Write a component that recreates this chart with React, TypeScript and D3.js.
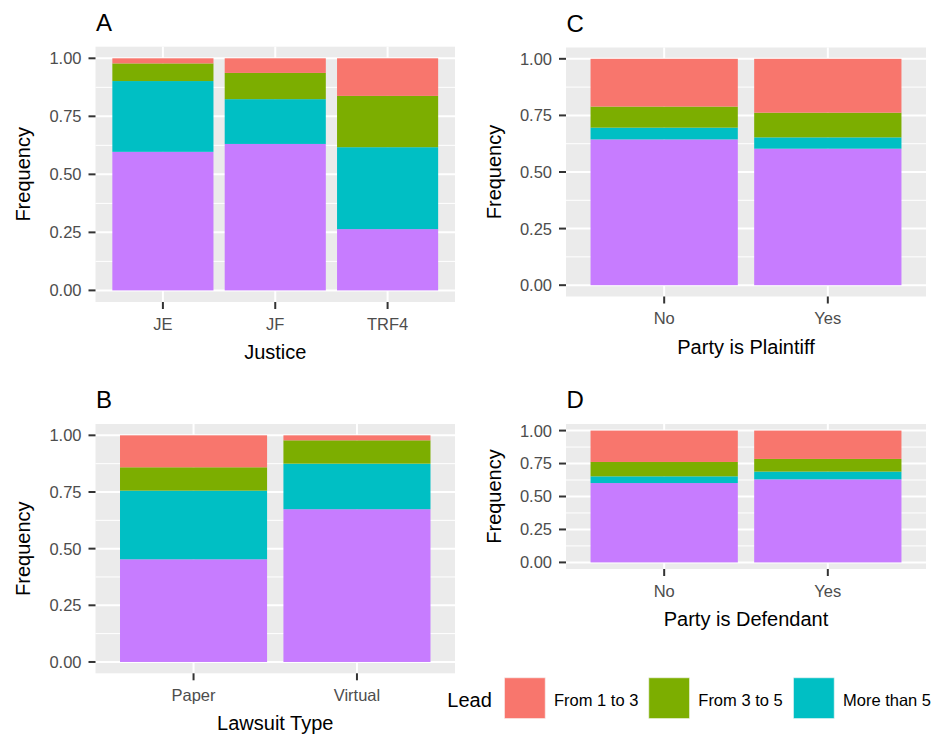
import React from "react";
import * as d3 from "d3";

// ---------- data ----------
const seriesKeys = ["Less than 1", "More than 5", "From 3 to 5", "From 1 to 3"]; // bottom -> top
const legendKeys = ["From 1 to 3", "From 3 to 5", "More than 5"];
const yTicks = [0, 0.25, 0.5, 0.75, 1];
const yMinor = [0.125, 0.375, 0.625, 0.875];

const justiceCats = ["JE", "JF", "TRF4"];
const justiceLess1 = [0.597, 0.631, 0.264];
const justiceMore5 = [0.305, 0.193, 0.353];
const justice3to5 = [0.076, 0.113, 0.221];
const justice1to3 = [0.022, 0.063, 0.162];

const lawsuitCats = ["Paper", "Virtual"];
const lawsuitLess1 = [0.453, 0.674];
const lawsuitMore5 = [0.303, 0.201];
const lawsuit3to5 = [0.103, 0.103];
const lawsuit1to3 = [0.141, 0.022];

const plaintiffCats = ["No", "Yes"];
const plaintiffLess1 = [0.644, 0.603];
const plaintiffMore5 = [0.052, 0.05];
const plaintiff3to5 = [0.093, 0.109];
const plaintiff1to3 = [0.211, 0.238];

const defendantCats = ["No", "Yes"];
const defendantLess1 = [0.602, 0.63];
const defendantMore5 = [0.051, 0.059];
const defendant3to5 = [0.109, 0.096];
const defendant1to3 = [0.238, 0.215];

const colors: Record<string, string> = {
  "From 1 to 3": "#F8766D",
  "From 3 to 5": "#7CAE00",
  "More than 5": "#00BFC4",
  "Less than 1": "#C77CFF",
};

const FONT = "'Liberation Sans', Arial, Helvetica, sans-serif";

function buildRows(cats: string[], a: number[], b: number[], c: number[], d: number[]) {
  return cats.map((cat, i) => ({
    cat,
    "Less than 1": a[i],
    "More than 5": b[i],
    "From 3 to 5": c[i],
    "From 1 to 3": d[i],
  }));
}

type PanelProps = {
  tag: string;
  xTitle: string;
  cats: string[];
  rows: any[];
  x0: number;
  x1: number;
  top: number;
  bottom: number;
};

function Panel({ tag, xTitle, cats, rows, x0, x1, top, bottom }: PanelProps) {
  const x = d3.scaleBand<string>().domain(cats).range([x0, x1]).paddingInner(0.1).paddingOuter(0.15);
  const y = d3.scaleLinear().domain([-0.05, 1.05]).range([bottom, top]);
  const stacked = d3.stack<any>().keys(seriesKeys)(rows);
  const midY = (top + bottom) / 2;
  return (
    <g>
      <text x={x0 + 0.5} y={top - 16} fontSize={24} fill="#000" fontFamily={FONT}>
        {tag}
      </text>
      <rect x={x0} y={top} width={x1 - x0} height={bottom - top} fill="#EBEBEB" />
      {yMinor.map((t) => (
        <line key={"mn" + t} x1={x0} x2={x1} y1={y(t)} y2={y(t)} stroke="#fff" strokeWidth={1} />
      ))}
      {yTicks.map((t) => (
        <line key={"mj" + t} x1={x0} x2={x1} y1={y(t)} y2={y(t)} stroke="#fff" strokeWidth={2} />
      ))}
      {cats.map((c) => (
        <line
          key={"v" + c}
          x1={x(c)! + x.bandwidth() / 2}
          x2={x(c)! + x.bandwidth() / 2}
          y1={top}
          y2={bottom}
          stroke="#fff"
          strokeWidth={2}
        />
      ))}
      {stacked.map((s) =>
        s.map((d, i) => (
          <rect
            key={s.key + i}
            x={x(d.data.cat)!}
            width={x.bandwidth()}
            y={y(d[1])}
            height={y(d[0]) - y(d[1])}
            fill={colors[s.key]}
          />
        ))
      )}
      {yTicks.map((t) => (
        <g key={"yt" + t}>
          <line x1={x0 - 7} x2={x0} y1={y(t)} y2={y(t)} stroke="#333" strokeWidth={2} />
          <text
            x={x0 - 14}
            y={y(t)}
            dy="0.36em"
            textAnchor="end"
            fontSize={16.5}
            fill="#4D4D4D"
            fontFamily={FONT}
          >
            {d3.format(".2f")(t)}
          </text>
        </g>
      ))}
      {cats.map((c) => {
        const cx = x(c)! + x.bandwidth() / 2;
        return (
          <g key={"xt" + c}>
            <line x1={cx} x2={cx} y1={bottom} y2={bottom + 7} stroke="#333" strokeWidth={2} />
            <text x={cx} y={bottom + 27.5} textAnchor="middle" fontSize={16.5} fill="#4D4D4D" fontFamily={FONT}>
              {c}
            </text>
          </g>
        );
      })}
      <text
        x={(x0 + x1) / 2}
        y={bottom + 57}
        textAnchor="middle"
        fontSize={20}
        fill="#000"
        fontFamily={FONT}
      >
        {xTitle}
      </text>
      <text
        transform={`translate(${x0 - 65.5},${midY}) rotate(-90)`}
        textAnchor="middle"
        fontSize={20}
        fill="#000"
        fontFamily={FONT}
      >
        Frequency
      </text>
    </g>
  );
}

if (typeof document !== "undefined") {
  document.body.style.margin = "0";
}

export default function App() {
  const rowsA = buildRows(justiceCats, justiceLess1, justiceMore5, justice3to5, justice1to3);
  const rowsB = buildRows(lawsuitCats, lawsuitLess1, lawsuitMore5, lawsuit3to5, lawsuit1to3);
  const rowsC = buildRows(plaintiffCats, plaintiffLess1, plaintiffMore5, plaintiff3to5, plaintiff1to3);
  const rowsD = buildRows(defendantCats, defendantLess1, defendantMore5, defendant3to5, defendant1to3);

  const legendX = [504, 648.3, 793];
  return (
    <svg width={944} height={737} style={{ display: "block", background: "#fff" }}>
      <rect width={944} height={737} fill="#fff" />
      <Panel tag="A" xTitle="Justice" cats={justiceCats} rows={rowsA} x0={95.5} x1={455} top={46.7} bottom={302} />
      <Panel tag="B" xTitle="Lawsuit Type" cats={lawsuitCats} rows={rowsB} x0={95.5} x1={455} top={424} bottom={673.3} />
      <Panel tag="C" xTitle="Party is Plaintiff" cats={plaintiffCats} rows={rowsC} x0={566} x1={926} top={47.5} bottom={296.5} />
      <Panel tag="D" xTitle="Party is Defendant" cats={defendantCats} rows={rowsD} x0={566} x1={926} top={424} bottom={569} />
      <g>
        <text x={447.3} y={706.5} fontSize={20} fill="#000" fontFamily={FONT}>
          Lead
        </text>
        {legendKeys.map((k, i) => (
          <g key={k}>
            <rect x={legendX[i]} y={677.3} width={41.7} height={41.7} fill="#F2F2F2" />
            <rect
              x={legendX[i] + 0.5}
              y={677.8}
              width={40.7}
              height={40.7}
              fill={colors[k]}
              stroke="#fff"
              strokeOpacity={0.5}
              strokeWidth={1}
            />
            <text x={legendX[i] + 50} y={705.5} fontSize={16.5} fill="#000" fontFamily={FONT}>
              {k}
            </text>
          </g>
        ))}
      </g>
    </svg>
  );
}
